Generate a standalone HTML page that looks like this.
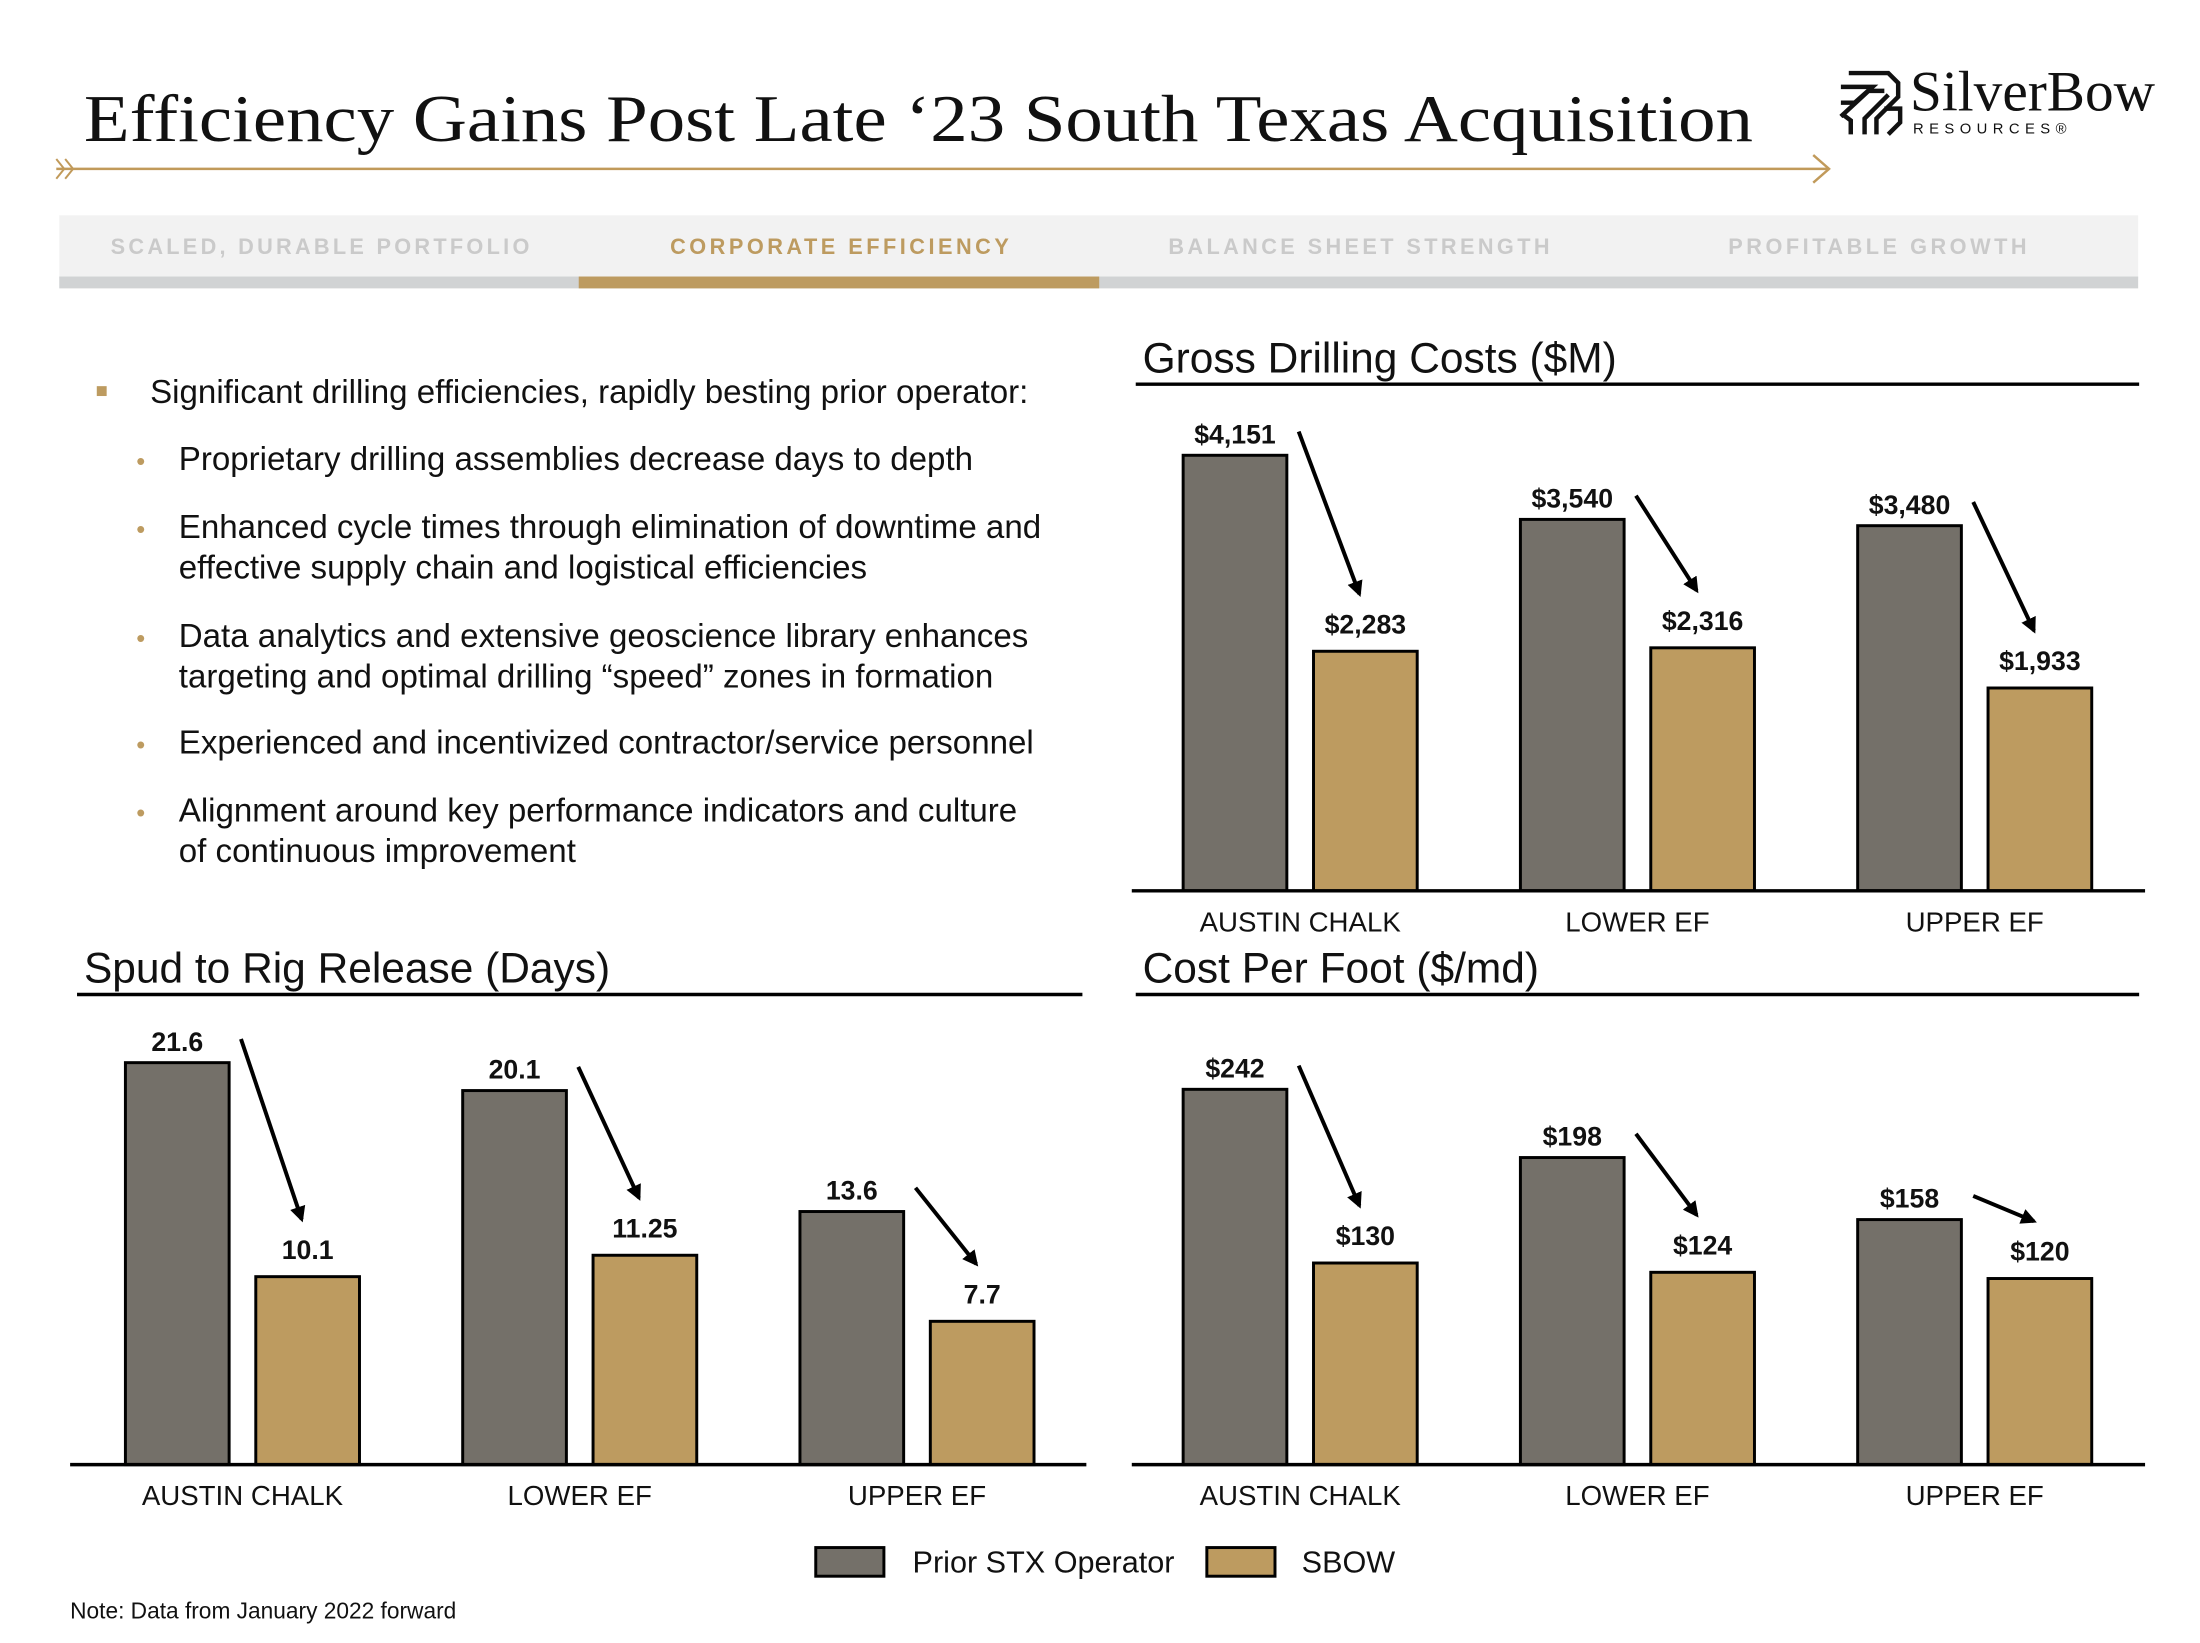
<!DOCTYPE html>
<html><head><meta charset="utf-8"><style>
html,body{margin:0;padding:0;background:#fff;}
svg{display:block;}
text{font-family:"Liberation Sans",Arial,sans-serif;}
</style></head><body>
<svg id="page" width="2200" height="1643" viewBox="0 0 2200 1643" xmlns="http://www.w3.org/2000/svg">
<defs><marker id="ah" viewBox="0 0 10 10" refX="8" refY="5" markerWidth="4" markerHeight="4" orient="auto"><path d="M0,0 L10,5 L0,10 z" fill="#000"/></marker></defs>
<g transform="scale(0.9876)">
<g>
<text x="85" y="143" font-size="68" textLength="1690" lengthAdjust="spacingAndGlyphs" style="font-family:'Liberation Serif',serif" fill="#111">Efficiency Gains Post Late ‘23 South Texas Acquisition</text>
<line x1="57" y1="171" x2="1852" y2="171" stroke="#c19a5a" stroke-width="2.5"/>
<path d="M57,161 L65,171 L57,181 M66,161 L74,171 L66,181" stroke="#c19a5a" stroke-width="2" fill="none"/>
<path d="M1836,157 L1852,171 L1836,185" stroke="#c19a5a" stroke-width="2.5" fill="none"/>
<g>
<g stroke="#111" stroke-width="4.5" fill="none">
<path d="M1872,74 L1912,74 L1922,84 L1922,98 L1900,120 L1900,136"/>
<path d="M1864,88 L1896,88 L1878,104 L1864,104 M1864,118 L1892,92 L1908,92"/>
<path d="M1888,136 L1888,120 L1912,96 M1874,136 L1874,122 L1866,116 M1912,136 L1924,124 L1924,110 L1908,110"/>
</g>
<text x="1934" y="112" font-size="58" style="font-family:'Liberation Serif',serif" fill="#111">SilverBow</text>
<text x="1937" y="135" font-size="15" letter-spacing="5.5" fill="#111">RESOURCES®</text>
</g>
</g>
<g>
<rect x="60" y="218" width="2105" height="64" fill="#f2f2f2"/>
<rect x="60" y="280" width="2105" height="12" fill="#d1d3d4"/>
<rect x="586" y="280" width="527" height="12" fill="#bd9b60"/>
<g font-size="22" font-weight="bold" text-anchor="middle" lengthAdjust="spacingAndGlyphs">
<text x="324" y="257" textLength="424" fill="#cacaca">SCALED, DURABLE PORTFOLIO</text>
<text x="850" y="257" textLength="343" fill="#bd9b60">CORPORATE EFFICIENCY</text>
<text x="1376" y="257" textLength="386" fill="#cacaca">BALANCE SHEET STRENGTH</text>
<text x="1901" y="257" textLength="302" fill="#cacaca">PROFITABLE GROWTH</text>
</g>
</g>
<g font-size="33.5" fill="#111">
<rect x="98" y="391" width="10" height="10" fill="#bd9b60"/>
<text x="152" y="408">Significant drilling efficiencies, rapidly besting prior operator:</text>
<g fill="#bd9b60" font-size="26"><text x="138" y="476">•</text><text x="138" y="545">•</text><text x="138" y="655">•</text><text x="138" y="763">•</text><text x="138" y="832">•</text></g>
<text x="181" y="476">Proprietary drilling assemblies decrease days to depth</text>
<text x="181" y="545">Enhanced cycle times through elimination of downtime and</text>
<text x="181" y="586">effective supply chain and logistical efficiencies</text>
<text x="181" y="655">Data analytics and extensive geoscience library enhances</text>
<text x="181" y="696">targeting and optimal drilling “speed” zones in formation</text>
<text x="181" y="763">Experienced and incentivized contractor/service personnel</text>
<text x="181" y="832">Alignment around key performance indicators and culture</text>
<text x="181" y="873">of continuous improvement</text>
</g>
<g id="charts"></g>
<g font-size="31" fill="#111">
<rect x="826" y="1567" width="69" height="29" fill="#747069" stroke="#000" stroke-width="3"/>
<text x="924" y="1592">Prior STX Operator</text>
<rect x="1222" y="1567" width="69" height="29" fill="#bd9b60" stroke="#000" stroke-width="3"/>
<text x="1318" y="1592">SBOW</text>
</g>
<text x="71" y="1646" font-size="23" fill="#111" dy="-7">Note: Data from January 2022 forward</text>
</g>
</svg>
<script>
const categories = ["AUSTIN CHALK", "LOWER EF", "UPPER EF"];
const grossPrior = [4151, 3540, 3480];
const grossSbow = [2283, 2316, 1933];
const grossLabelsPrior = ["$4,151", "$3,540", "$3,480"];
const grossLabelsSbow = ["$2,283", "$2,316", "$1,933"];
const spudPrior = [21.6, 20.1, 13.6];
const spudSbow = [10.1, 11.25, 7.7];
const spudLabelsPrior = ["21.6", "20.1", "13.6"];
const spudLabelsSbow = ["10.1", "11.25", "7.7"];
const cpfPrior = [242, 198, 158];
const cpfSbow = [130, 124, 120];
const cpfLabelsPrior = ["$242", "$198", "$158"];
const cpfLabelsSbow = ["$130", "$124", "$120"];

const NS = "http://www.w3.org/2000/svg";
const root = document.getElementById("charts");
function mk(tag, attrs, parent) {
  const e = document.createElementNS(NS, tag);
  for (const k in attrs) e.setAttribute(k, attrs[k]);
  parent.appendChild(e);
  return e;
}
function drawChart(cfg) {
  const g = mk("g", {}, root);
  
  
  const t = mk("text", {x: cfg.titleX, y: cfg.titleY, "font-size": 43, fill: "#111"}, g);
  t.textContent = cfg.title;
  
  
  mk("line", {x1: cfg.ulX1, x2: cfg.ulX2, y1: cfg.ulY, y2: cfg.ulY, stroke: "#000", "stroke-width": 3.5}, g);
  const y = v => cfg.base - v * cfg.pxPerUnit;
  const x0 = i => cfg.firstX + i * 341.5;
  const bw = 105, goff = 132;
  categories.forEach((c, i) => {
    const gx = x0(i), sx = gx + goff;
    const gy = y(cfg.prior[i]), sy = y(cfg.sbow[i]);
    const b1 = mk("rect", {x: gx, y: gy, width: bw, height: cfg.base - gy, fill: "#747069", stroke: "#000", "stroke-width": 3}, g);
    
    
    const b2 = mk("rect", {x: sx, y: sy, width: bw, height: cfg.base - sy, fill: "#bd9b60", stroke: "#000", "stroke-width": 3}, g);
    
    
    const l1 = mk("text", {x: gx + bw / 2, y: gy - 12, "font-size": 27, "font-weight": "bold", "text-anchor": "middle", fill: "#111"}, g);
    l1.textContent = cfg.lp[i];
    
    
    const l2 = mk("text", {x: sx + bw / 2, y: sy - 18, "font-size": 27, "font-weight": "bold", "text-anchor": "middle", fill: "#111"}, g);
    l2.textContent = cfg.ls[i];
    
    
    const ar = mk("line", {x1: gx + bw + 12, y1: gy - 24, x2: sx + bw / 2 - 6, y2: sy - 58, stroke: "#000", "stroke-width": 4, "marker-end": "url(#ah)"}, g);
    
    
    const cl = mk("text", {x: (gx + sx + bw) / 2, y: cfg.base + 41, "font-size": 28, "text-anchor": "middle", fill: "#111"}, g);
    cl.textContent = c;
    
    
  });
  mk("line", {x1: cfg.bX1, x2: cfg.bX2, y1: cfg.base, y2: cfg.base, stroke: "#000", "stroke-width": 3.5}, g);
}
drawChart({name: "gross-drilling-costs-chart", title: "Gross Drilling Costs ($M)", titleX: 1157, titleY: 377, ulX1: 1150, ulX2: 2166, ulY: 389,
  base: 902, pxPerUnit: 441 / 4151, firstX: 1198, bX1: 1146, bX2: 2172, prior: grossPrior, sbow: grossSbow, lp: grossLabelsPrior, ls: grossLabelsSbow});
drawChart({name: "spud-to-rig-release-chart", title: "Spud to Rig Release (Days)", titleX: 85, titleY: 995, ulX1: 78, ulX2: 1096, ulY: 1007,
  base: 1483, pxPerUnit: 407 / 21.6, firstX: 127, bX1: 71, bX2: 1100, prior: spudPrior, sbow: spudSbow, lp: spudLabelsPrior, ls: spudLabelsSbow});
drawChart({name: "cost-per-foot-chart", title: "Cost Per Foot ($/md)", titleX: 1157, titleY: 995, ulX1: 1150, ulX2: 2166, ulY: 1007,
  base: 1483, pxPerUnit: 380 / 242, firstX: 1198, bX1: 1146, bX2: 2172, prior: cpfPrior, sbow: cpfSbow, lp: cpfLabelsPrior, ls: cpfLabelsSbow});
</script>
</body></html>
